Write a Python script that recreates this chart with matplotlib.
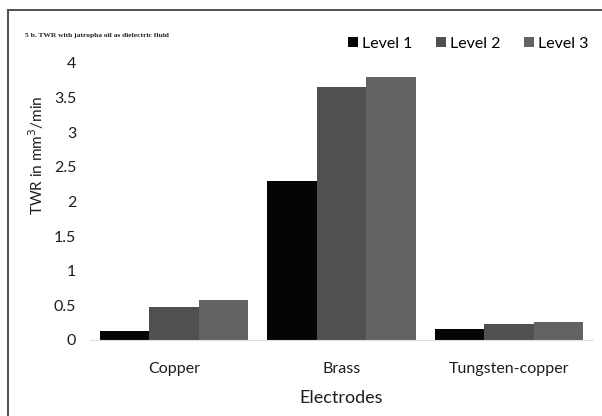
import matplotlib
matplotlib.use("Agg")
import matplotlib.pyplot as plt
import numpy as np
from matplotlib.lines import Line2D

categories = ["Copper", "Brass", "Tungsten-copper"]
level1 = [0.13, 2.30, 0.16]
level2 = [0.47, 3.65, 0.23]
level3 = [0.58, 3.80, 0.26]
series_names = ["Level 1", "Level 2", "Level 3"]
yticks = [0, 0.5, 1, 1.5, 2, 2.5, 3, 3.5, 4]
ytick_labels = ["0", "0.5", "1", "1.5", "2", "2.5", "3", "3.5", "4"]

colors = ["#050505", "#505050", "#636363"]
font = "Lato"
tc = "#1e1e1e"

fig = plt.figure(figsize=(6.02, 4.16), dpi=100)
ax = fig.add_axes([0.1495, 0.1827, 0.8355, 0.6659])

x = np.arange(len(categories))
w = 0.295
for i, (vals, c, name) in enumerate(zip([level1, level2, level3], colors, series_names)):
    ax.bar(x + (i - 1) * w, vals, width=w, color=c, label=name, linewidth=0)

ax.set_xlim(-0.5, len(categories) - 0.5)
ax.set_ylim(0, 4)
ax.set_yticks(yticks)
ax.set_yticklabels(ytick_labels, fontsize=11.5, family=font, color=tc)
ax.set_xticks(x)
ax.set_xticklabels(categories, fontsize=11.5, family=font, color=tc)
ax.tick_params(axis="both", length=0)
ax.tick_params(axis="y", pad=10)
ax.tick_params(axis="x", pad=16)
for s in ["top", "right", "left"]:
    ax.spines[s].set_visible(False)
ax.spines["bottom"].set_color("#dddddd")
ax.spines["bottom"].set_linewidth(0.8)

ax.set_ylabel("TWR in mm$^3$/min", fontsize=11, family=font, color=tc)
ax.yaxis.set_label_coords(-0.088, 0.668)
ax.set_xlabel("Electrodes", fontsize=13, family=font, color=tc, labelpad=10)

leg = ax.legend(loc="center right", bbox_to_anchor=(0.99, 1.07), ncol=3, frameon=False,
                prop={"family": font, "size": 11.5}, handlelength=0.6, handleheight=0.6,
                handletextpad=0.25, columnspacing=1.5, borderaxespad=0, borderpad=0)

fig.text(0.041, 0.912, "5 b. TWR with jatropha oil as dielectric fluid", fontsize=5.4,
         family="Liberation Serif", fontweight="bold", color="#222222")

# figure border (top and left visible)
fig.add_artist(Line2D([0.014, 1.0], [0.976, 0.976], transform=fig.transFigure, color="#333333", lw=1.2))
fig.add_artist(Line2D([0.014, 0.014], [0.0, 0.976], transform=fig.transFigure, color="#555555", lw=1.5))

fig.savefig("out.png", dpi=100)
